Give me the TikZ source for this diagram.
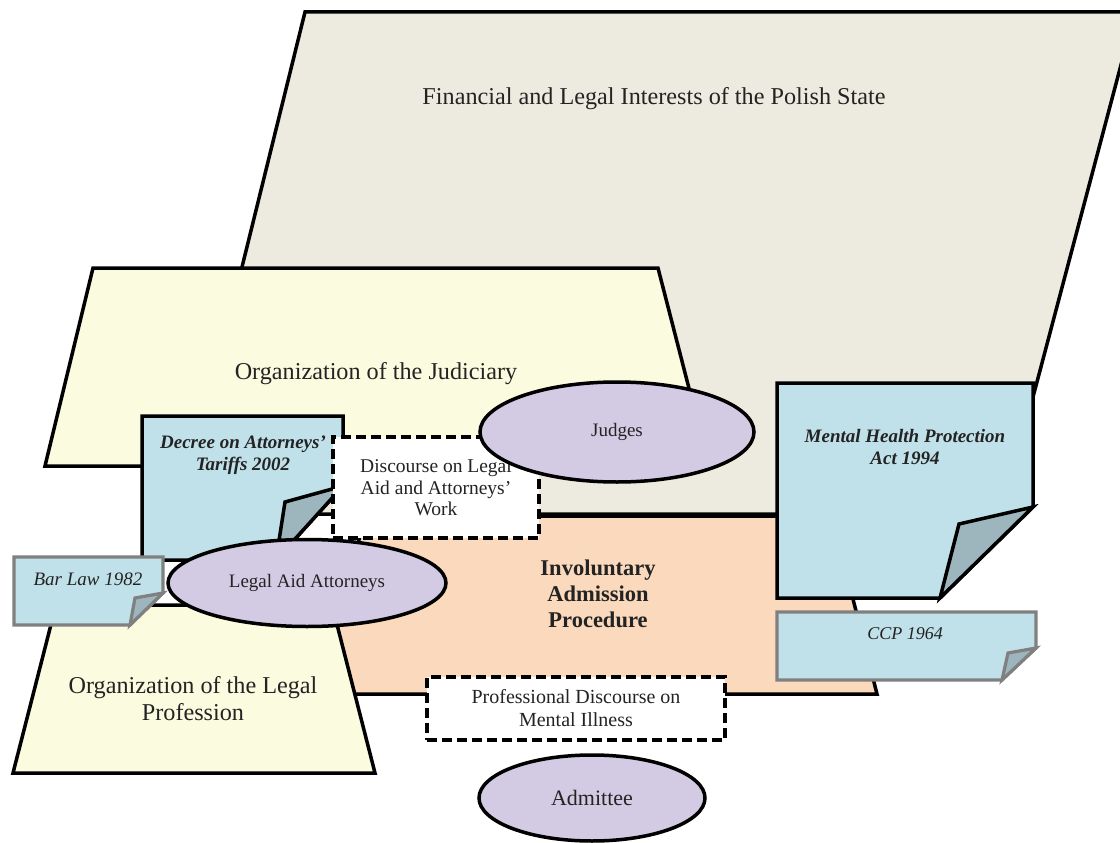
\documentclass[tikz,border=0pt]{standalone}
\usepackage{fontspec}
\setmainfont{Liberation Serif}
\usetikzlibrary{shapes.geometric}

\definecolor{statebg}{RGB}{237,235,224}
\definecolor{yellowbg}{RGB}{251,251,224}
\definecolor{peach}{RGB}{251,217,188}
\definecolor{docblue}{RGB}{192,225,233}
\definecolor{foldblue}{RGB}{157,182,190}
\definecolor{lavender}{RGB}{211,203,227}
\definecolor{docgray}{RGB}{128,128,128}
\definecolor{ink}{RGB}{35,35,35}

\begin{document}
\begin{tikzpicture}[x=1pt,y=-1pt,
  outline/.style={draw=black, line width=3.5pt, line join=miter},
  grayline/.style={draw=docgray, line width=3.2pt, line join=miter},
  areatext/.style={text=ink, font=\fontsize{24.2}{27}\selectfont, align=center, inner sep=0pt},
  doctext/.style={text=ink, font=\fontsize{19}{22}\selectfont\bfseries\itshape, align=center, inner sep=0pt},
  smalldoctext/.style={text=ink, font=\fontsize{19}{22}\selectfont\itshape, align=center, inner sep=0pt},
  actor/.style={ellipse, draw=black, line width=3.5pt, fill=lavender, text=ink,
    inner sep=0pt, font=\fontsize{19}{22}\selectfont},
  discbox/.style={rectangle, draw=black, fill=white, line width=3.5pt,
    dash pattern=on 10pt off 5pt, text=ink, inner sep=0pt, align=center,
    font=\fontsize{19.5}{21.5}\selectfont}
]
\useasboundingbox (0,0) rectangle (1120,843);
\clip (0,0) rectangle (1120,843);
\fill[white] (0,0) rectangle (1120,843);

% state interests (background parallelogram)
\draw[outline, fill=statebg] (305,12) -- (1135,12) -- (1002,514) -- (181,514) -- cycle;
\node[areatext] (state) at (654,99) {Financial and Legal Interests of the Polish State};

% judiciary
\draw[outline, fill=yellowbg] (93,268) -- (658,268) -- (709,466) -- (45,466) -- cycle;
\node[areatext] (judiciary) at (376,374) {Organization of the Judiciary};

% procedure
\draw[outline, fill=peach] (365,516) -- (832,516) -- (877,694) -- (320,694) -- cycle;
\node[text=ink, font=\fontsize{22.5}{26}\selectfont\bfseries, align=center, inner sep=0pt]
  (procedure) at (598,594) {Involuntary\\Admission\\Procedure};

% legal profession
\draw[outline, fill=yellowbg] (56,605) -- (332,605) -- (375,773) -- (13,773) -- cycle;
\node[areatext] (profession) at (193,699) {Organization of the Legal\\Profession};

% legal acts as folded documents
\draw[outline, fill=docblue] (142,416) -- (343,416) -- (343,486) -- (276,560) -- (142,560) -- cycle;
\draw[outline, fill=foldblue] (343,486) -- (285,502) -- (276,560) -- cycle;
\node[doctext] (decree) at (243,455) {Decree on Attorneys'\\Tariffs 2002};

\draw[outline, fill=docblue] (777,383) -- (1033,383) -- (1033,507) -- (940,598) -- (777,598) -- cycle;
\draw[outline, fill=foldblue] (1033,507) -- (959,524) -- (940,598) -- cycle;
\node[doctext] (mhpa) at (905,447) {Mental Health Protection\\Act 1994};

\draw[grayline, fill=docblue] (777,612) -- (1036,612) -- (1036,648) -- (1002,680) -- (777,680) -- cycle;
\draw[grayline, fill=foldblue] (1036,648) -- (1008,653) -- (1002,680) -- cycle;
\node[smalldoctext, font=\fontsize{18}{21}\selectfont\itshape] (ccp) at (905,634) {CCP 1964};

\draw[grayline, fill=docblue] (14,557) -- (163,557) -- (163,593) -- (130,625) -- (14,625) -- cycle;
\draw[grayline, fill=foldblue] (163,593) -- (135,598) -- (130,625) -- cycle;
\node[smalldoctext] (barlaw) at (88,579) {Bar Law 1982};

% discourses and actors
\node[discbox, minimum width=206pt, minimum height=101pt] (legaldisc) at (436,487.5)
  {Discourse on Legal\\Aid and Attorneys'\\Work};
\node[actor, minimum width=274pt, minimum height=100pt] (judges) at (617,432) {Judges};
\node[actor, minimum width=278pt, minimum height=87pt] (attorneys) at (307,583) {Legal Aid Attorneys};
\node[discbox, minimum width=298pt, minimum height=63pt, font=\fontsize{20}{23}\selectfont]
  (meddisc) at (576,708.5) {Professional Discourse on\\Mental Illness};
\node[actor, minimum width=226pt, minimum height=86pt, font=\fontsize{22}{25}\selectfont]
  (admittee) at (592,798) {Admittee};
\end{tikzpicture}
\end{document}
